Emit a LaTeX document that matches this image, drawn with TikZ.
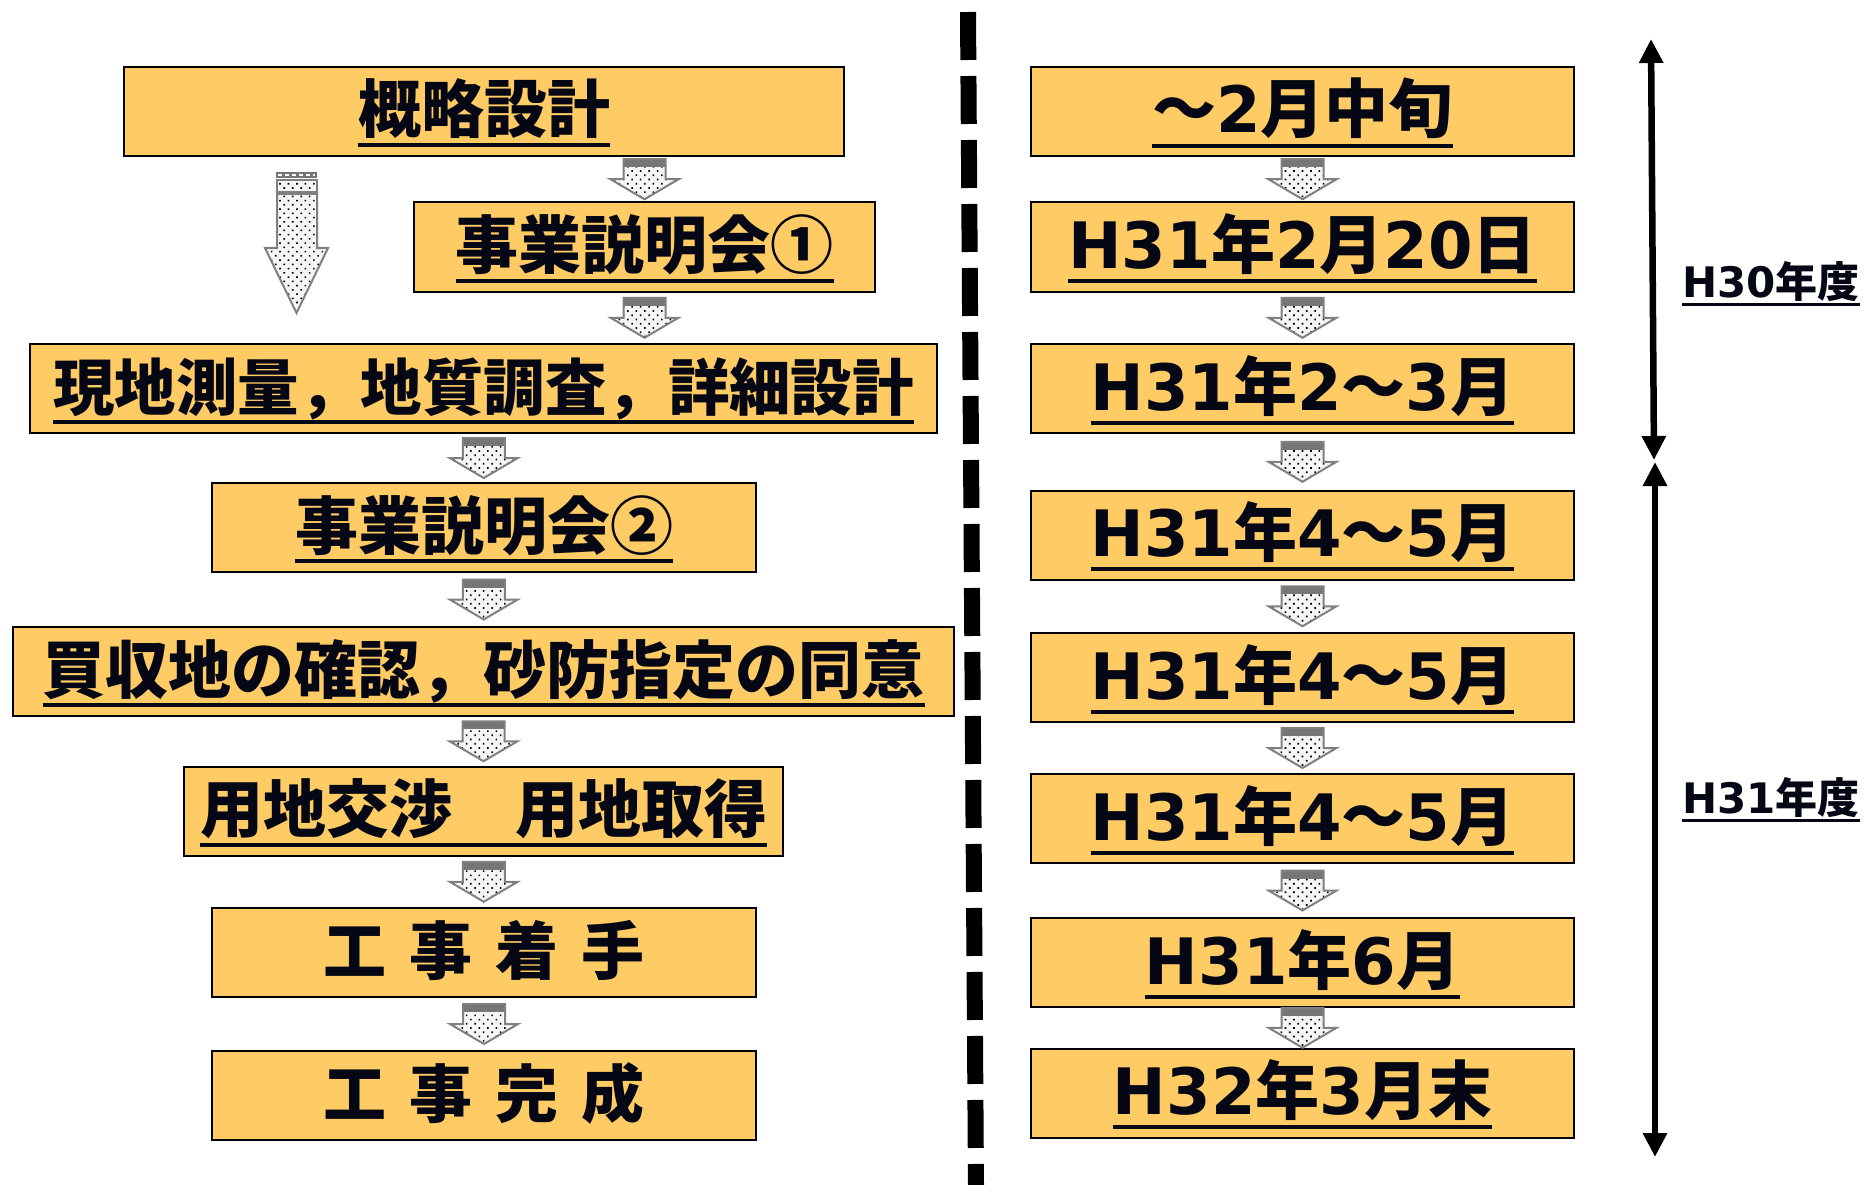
\documentclass[tikz,border=0pt]{standalone}
\usepackage{fontspec}
\usepackage{graphicx}
\usetikzlibrary{arrows.meta,patterns.meta,calc}
\newfontfamily\cjkf{Noto Sans CJK JP}
\newfontfamily\latf{DejaVu Sans}
\newcommand\latn[1]{{\latf\bfseries #1}}
\newsavebox\ulbox
\newcommand\ulx[1]{\sbox\ulbox{#1}\rlap{\rule[-0.23em]{\wd\ulbox}{0.065em}}\usebox\ulbox}
\newcommand\ulthin[1]{\sbox\ulbox{#1}\rlap{\rule[-8.5pt]{\wd\ulbox}{2.5pt}}\usebox\ulbox}
\definecolor{boxy}{RGB}{254,203,101}
\definecolor{txt}{RGB}{5,8,20}
\definecolor{arrgray}{RGB}{128,128,128}
\definecolor{bandgray}{RGB}{118,118,118}
\definecolor{dotbg}{RGB}{246,246,248}
\tikzset{
  box/.style={draw=black, line width=2pt, fill=boxy, inner sep=0pt,
    text height=66pt, text depth=23pt, text=txt},
  lbox/.style={box, font=\cjkf\bfseries\fontsize{63pt}{63pt}\selectfont},
  rbox/.style={box, minimum width=543pt, font=\cjkf\bfseries\fontsize{64pt}{64pt}\selectfont},
  yearlab/.style={anchor=base west, inner sep=0pt, text=txt,
    font=\cjkf\bfseries\fontsize{42pt}{42pt}\selectfont},
  dotfill/.style={preaction={fill=dotbg}, pattern={Dots[distance=6pt,radius=1.1pt,angle=45]}, pattern color=black},
  blk/.pic={
    \path[dotfill] (-21,-12) -- (21,-12) -- (21,0) -- (34,0) -- (0,20) -- (-34,0) -- (-21,0) -- cycle;
    \fill[bandgray] (-21,-20) rectangle (21,-12);
    \draw[arrgray, line width=2pt, line join=miter] (-21,-20) -- (21,-20) -- (21,0) -- (34,0) -- (0,20) -- (-34,0) -- (-21,0) -- cycle;
  },
  dbl/.style={line width=6.5pt, {Triangle[length=24pt,width=23pt]}-{Triangle[length=24pt,width=23pt]}},
}
\begin{document}
\begin{tikzpicture}[x=1pt,y=-1pt]
\useasboundingbox (0,0) rectangle (1866,1185);
\fill[white] (0,0) rectangle (1866,1185);

% left column
\node[lbox, minimum width=720pt] (l1) at (484,111.5) {\ulx{概略設計}};
\node[lbox, minimum width=461pt] (l2) at (644.5,247) {\ulx{事業説明会①}};
\node[lbox, minimum width=907pt, font=\cjkf\bfseries\fontsize{61.5pt}{61.5pt}\selectfont] (l3) at (483.5,388.5) {\ulx{現地測量，地質調査，詳細設計}};
\node[lbox, minimum width=544pt] (l4) at (484,527.5) {\ulx{事業説明会②}};
\node[lbox, minimum width=941pt] (l5) at (483.5,671.5) {\ulx{買収地の確認，砂防指定の同意}};
\node[lbox, minimum width=599pt] (l6) at (483.5,811) {\ulx{用地交渉　用地取得}};
\node[lbox, minimum width=544pt] (l7) at (484,952.5) {工\hspace{23pt}事\hspace{23pt}着\hspace{23pt}手};
\node[lbox, minimum width=544pt] (l8) at (484,1095.5) {工\hspace{23pt}事\hspace{23pt}完\hspace{23pt}成};

% right column
\node[rbox] (r1) at (1302.5,111.5) {\ulx{～\latn{2}月中旬}};
\node[rbox] (r2) at (1302.5,247) {\ulx{\latn{H31}年\latn{2}月\latn{20}日}};
\node[rbox] (r3) at (1302.5,388.5) {\ulx{\latn{H31}年\latn{2}～\latn{3}月}};
\node[rbox] (r4) at (1302.5,535) {\ulx{\latn{H31}年\latn{4}～\latn{5}月}};
\node[rbox] (r5) at (1302.5,677.5) {\ulx{\latn{H31}年\latn{4}～\latn{5}月}};
\node[rbox] (r6) at (1302.5,818.5) {\ulx{\latn{H31}年\latn{4}～\latn{5}月}};
\node[rbox] (r7) at (1302.5,962.5) {\ulx{\latn{H31}年\latn{6}月}};
\node[rbox] (r8) at (1302.5,1093) {\ulx{\latn{H32}年\latn{3}月末}};

% flow arrows
\pic at ($(l1.south -| l2.north)!0.5!(l2.north)$) {blk};
\pic at ($(l2.south)!0.5!(l3.north -| l2.south)$) {blk};
\pic at ($(l3.south)!0.5!(l4.north)$) {blk};
\pic at ($(l4.south)!0.5!(l5.north)$) {blk};
\pic at ($(l5.south)!0.5!(l6.north)$) {blk};
\pic at ($(l6.south)!0.5!(l7.north)$) {blk};
\pic at ($(l7.south)!0.5!(l8.north)$) {blk};
\foreach \a/\b in {r1/r2,r2/r3,r3/r4,r4/r5,r5/r6,r6/r7,r7/r8}
  \pic at ($(\a.south)!0.5!(\b.north)$) {blk};

% big left arrow
\fill[bandgray] (276,172) rectangle (317,178);
\draw[white, line width=1.2pt, dash pattern=on 4pt off 3pt] (278,175) -- (315,175);
\path[dotfill] (277,180) rectangle (317,192);
\draw[arrgray, line width=2pt] (277,180) rectangle (317,192);
\path[dotfill] (277,194) -- (317,194) -- (317,248) -- (328,248) -- (296.5,313) -- (265,248) -- (277,248) -- cycle;
\draw[arrgray, line width=2pt, line join=miter] (277,194) -- (317,194) -- (317,248) -- (328,248) -- (296.5,313) -- (265,248) -- (277,248) -- cycle;

% separator
\coordinate (s1) at (968,12);
\coordinate (s2) at (976,1185);
\draw[line width=16pt, dash pattern=on 48pt off 16pt] (s1) -- (s2);

% period arrows
\coordinate (a1) at (1651,39);
\coordinate (a2) at (1654,460);
\coordinate (a3) at (1655,462);
\coordinate (a4) at (1655,1157);
\draw[dbl] (a1) -- (a2);
\draw[dbl] (a3) -- (a4);

\node[yearlab] (y30) at (1682,297) {\ulthin{\latn{H30}年度}};
\node[yearlab] (y31) at (1682,813) {\ulthin{\latn{H31}年度}};
\end{tikzpicture}
\end{document}
